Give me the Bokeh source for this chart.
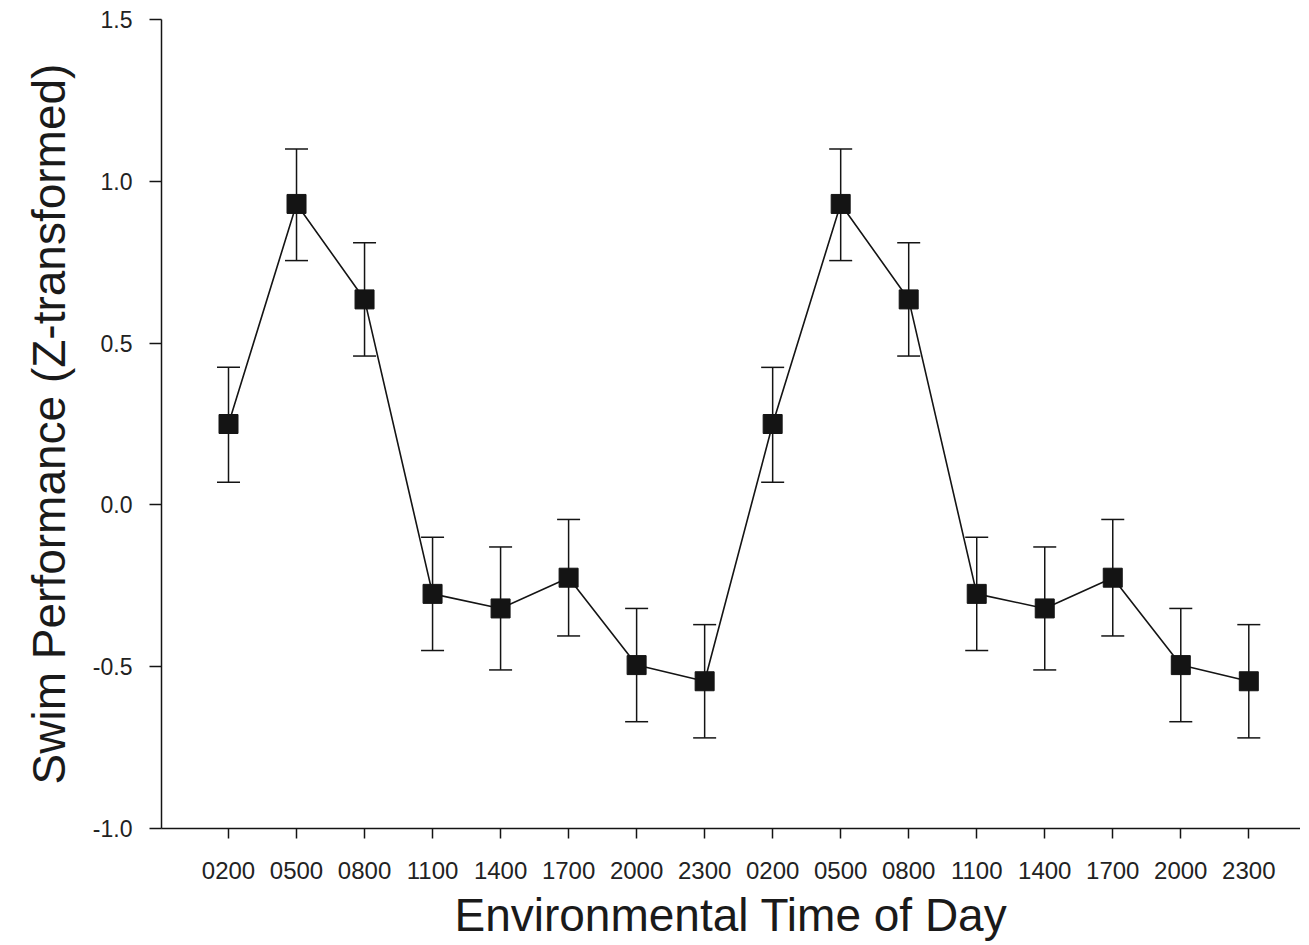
from bokeh.plotting import figure
from bokeh.models import ColumnDataSource, Range1d, FixedTicker, Whisker, TeeHead
from bokeh.embed import file_html
from bokeh.resources import INLINE

# ---- data ----
time_labels = ["0200", "0500", "0800", "1100", "1400", "1700", "2000", "2300",
               "0200", "0500", "0800", "1100", "1400", "1700", "2000", "2300"]
swim_mean = [0.25, 0.93, 0.635, -0.275, -0.32, -0.225, -0.495, -0.545,
             0.25, 0.93, 0.635, -0.275, -0.32, -0.225, -0.495, -0.545]
err_upper = [0.425, 1.10, 0.81, -0.10, -0.13, -0.045, -0.32, -0.37,
             0.425, 1.10, 0.81, -0.10, -0.13, -0.045, -0.32, -0.37]
err_lower = [0.07, 0.755, 0.46, -0.45, -0.51, -0.405, -0.67, -0.72,
             0.07, 0.755, 0.46, -0.45, -0.51, -0.405, -0.67, -0.72]
y_ticks = [-1.0, -0.5, 0.0, 0.5, 1.0, 1.5]

xs = list(range(len(time_labels)))
src = ColumnDataSource(dict(x=xs, y=swim_mean, upper=err_upper, lower=err_lower))

FONT = "Liberation Sans"
INK = "#141414"

p = figure(width=1300, height=943, output_backend="svg", toolbar_location=None,
           x_range=Range1d(-0.985, 15.76), y_range=Range1d(-1.0, 1.5),
           min_border_left=161, min_border_right=0, min_border_top=19,
           min_border_bottom=10)
p.outline_line_color = None
p.grid.visible = False
p.background_fill_color = "white"
p.border_fill_color = "white"

p.line("x", "y", source=src, line_color=INK, line_width=1.6)
w = Whisker(base="x", upper="upper", lower="lower", source=src,
            line_color=INK, line_width=1.5,
            upper_head=TeeHead(size=23, line_color=INK, line_width=1.5),
            lower_head=TeeHead(size=23, line_color=INK, line_width=1.5))
p.add_layout(w)
p.scatter("x", "y", source=src, marker="square", size=19,
          fill_color=INK, line_color=INK)

# x axis
xa = p.xaxis[0]
xa.ticker = FixedTicker(ticks=xs)
xa.major_label_overrides = {i: t for i, t in enumerate(time_labels)}
xa.minor_tick_line_color = None
xa.major_tick_in = 0
xa.major_tick_out = 10
xa.major_label_standoff = 23
xa.major_label_text_font = FONT
xa.major_label_text_font_size = "24px"
xa.major_label_text_color = "#222222"
xa.axis_label = "Environmental Time of Day"
xa.axis_label_text_font = FONT
xa.axis_label_text_font_size = "46px"
xa.axis_label_text_font_style = "normal"
xa.axis_label_text_color = "#1a1a1a"
xa.axis_label_standoff = 7
xa.axis_line_color = INK
xa.axis_line_width = 1.5
xa.major_tick_line_color = INK
xa.major_tick_line_width = 1.5

# y axis
ya = p.yaxis[0]
ya.ticker = FixedTicker(ticks=y_ticks)
ya.major_label_overrides = {v: f"{v:.1f}" for v in y_ticks}
ya.minor_tick_line_color = None
ya.major_tick_in = 0
ya.major_tick_out = 12
ya.major_label_standoff = 17
ya.major_label_text_font = FONT
ya.major_label_text_font_size = "23px"
ya.major_label_text_color = "#222222"
ya.axis_label = "Swim Performance (Z-transformed)"
ya.axis_label_text_font = FONT
ya.axis_label_text_font_size = "46px"
ya.axis_label_text_font_style = "normal"
ya.axis_label_text_color = "#1a1a1a"
ya.axis_label_standoff = 15
ya.axis_line_color = INK
ya.axis_line_width = 1.5
ya.major_tick_line_color = INK
ya.major_tick_line_width = 1.5

open("out.html", "w").write(file_html(p, INLINE))
